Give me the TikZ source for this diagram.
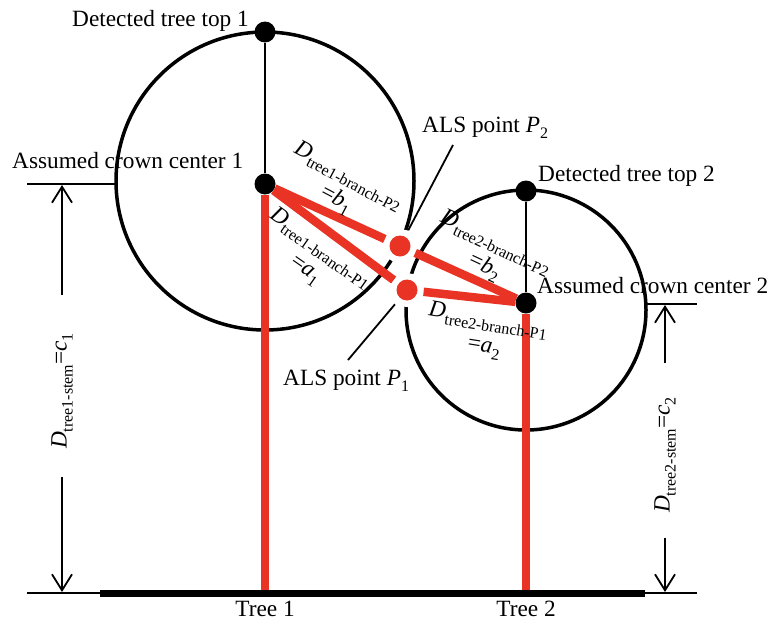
\documentclass[tikz,border=0pt]{standalone}
\usepackage{fontspec}
\setmainfont{Liberation Serif}
\usetikzlibrary{arrows.meta}
\definecolor{alsred}{RGB}{233,51,36}
\newcommand{\lowsub}[1]{\raisebox{-6pt}{\fontsize{16}{16}\selectfont #1}}
\begin{document}
\begin{tikzpicture}[x=1pt,y=-1pt,
  lbl/.style={font=\fontsize{23.3}{27}\selectfont, inner sep=0pt},
  bdot/.style={circle, fill=black, inner sep=0pt, minimum size=21pt},
  rdot/.style={circle, fill=alsred, inner sep=0pt, minimum size=21pt,
               preaction={draw=white, line width=13pt}},
  crown/.style={line width=3.5pt},
  thinl/.style={line width=2pt},
  redl/.style={draw=alsred, line width=8.5pt},
  dimarrow/.style={line width=1.8pt, -{Straight Barb[length=16pt,width=20pt]}},
  leader/.style={line width=1.8pt}]
\useasboundingbox (0,0) rectangle (771,624);

% crowns
\draw[crown] (265,181) circle (149);
\draw[crown] (526,310) circle (120);

% coordinates
\coordinate (g1) at (265,593);
\coordinate (g2) at (526,593);
\coordinate (gl) at (27,593);
\coordinate (gr) at (697,593);
\coordinate (bl) at (100,593);
\coordinate (br) at (645,593);
\coordinate (h1l) at (27,184);
\coordinate (h1r) at (117,184);
\coordinate (h2l) at (645,304);
\coordinate (h2r) at (697,304);
\coordinate (l2a) at (453,145);
\coordinate (l1a) at (348,360);
\coordinate (a1u) at (62,295);
\coordinate (a1t) at (62,185);
\coordinate (a1d) at (62,477);
\coordinate (a1b) at (62,592);
\coordinate (a2u) at (665,363);
\coordinate (a2t) at (665,305);
\coordinate (a2d) at (665,538);
\coordinate (a2b) at (665,592);

% ALS points with white halo, and their leaders
\node[rdot] (p2) at (400,246) {};
\node[rdot] (p1) at (407,290) {};
\draw[leader, shorten >=7pt] (l2a) -- (p2);
\draw[leader, shorten >=8pt] (l1a) -- (p1);

% dots
\node[bdot] (t1) at (265,32) {};
\node[bdot] (c1) at (265,184) {};
\node[bdot] (t2) at (526,191) {};
\node[bdot] (c2) at (526,303) {};

% vertical thin lines
\draw[thinl] (t1) -- (c1);
\draw[thinl] (t2) -- (c2);

% red stems and branches
\draw[redl] (c1) -- (g1);
\draw[redl] (c2) -- (g2);
\draw[redl, shorten >=6pt] (c1) -- (p2);
\draw[redl, shorten >=6pt] (c1) -- (p1);
\draw[redl, shorten <=6pt] (p2) -- (c2);
\draw[redl, shorten <=6pt] (p1) -- (c2);

% ground
\draw[thinl] (gl) -- (gr);
\draw[line width=7pt] (bl) -- (br);

% dimension lines
\draw[thinl] (h1l) -- (h1r);
\draw[thinl] (h2l) -- (h2r);
\draw[dimarrow] (a1u) -- (a1t);
\draw[dimarrow] (a1d) -- (a1b);
\draw[dimarrow] (a2u) -- (a2t);
\draw[dimarrow] (a2d) -- (a2b);

% text labels
\node[lbl, anchor=base east] (txt1) at (249,26) {Detected tree top 1};
\node[lbl, anchor=base west] (txc1) at (12,168) {Assumed crown center 1};
\node[lbl, anchor=base west] (txt2) at (538,181) {Detected tree top 2};
\node[lbl, anchor=base west] (txc2) at (537,293) {Assumed crown center 2};
\node[lbl, anchor=base west] (txp2) at (422,132) {ALS point \textit{P}\lowsub{2}};
\node[lbl, anchor=base west] (txp1) at (283,385) {ALS point \textit{P}\lowsub{1}};
\node[lbl, anchor=base] (tree1) at (265,616) {Tree 1};
\node[lbl, anchor=base] (tree2) at (526,616) {Tree 2};

\node[lbl, align=center, rotate=-28] (lb1) at (342,188)
  {\textit{D}\lowsub{tree1-branch-P2}\\=\textit{b}\lowsub{1}};
\node[lbl, align=center, rotate=-35] (la1) at (313,259)
  {\textit{D}\lowsub{tree1-branch-P1}\\=\textit{a}\lowsub{1}};
\node[lbl, align=center, rotate=-25] (lb2) at (490,255)
  {\textit{D}\lowsub{tree2-branch-P2}\\=\textit{b}\lowsub{2}};
\node[lbl, align=center, rotate=-9] (la2) at (486,334)
  {\textit{D}\lowsub{tree2-branch-P1}\\=\textit{a}\lowsub{2}};

\node[lbl, rotate=90] (ls1) at (62,391)
  {\textit{D}\lowsub{tree1-stem}=\textit{c}\lowsub{1}};
\node[lbl, rotate=90] (ls2) at (665,455)
  {\textit{D}\lowsub{tree2-stem}=\textit{c}\lowsub{2}};
\end{tikzpicture}
\end{document}
